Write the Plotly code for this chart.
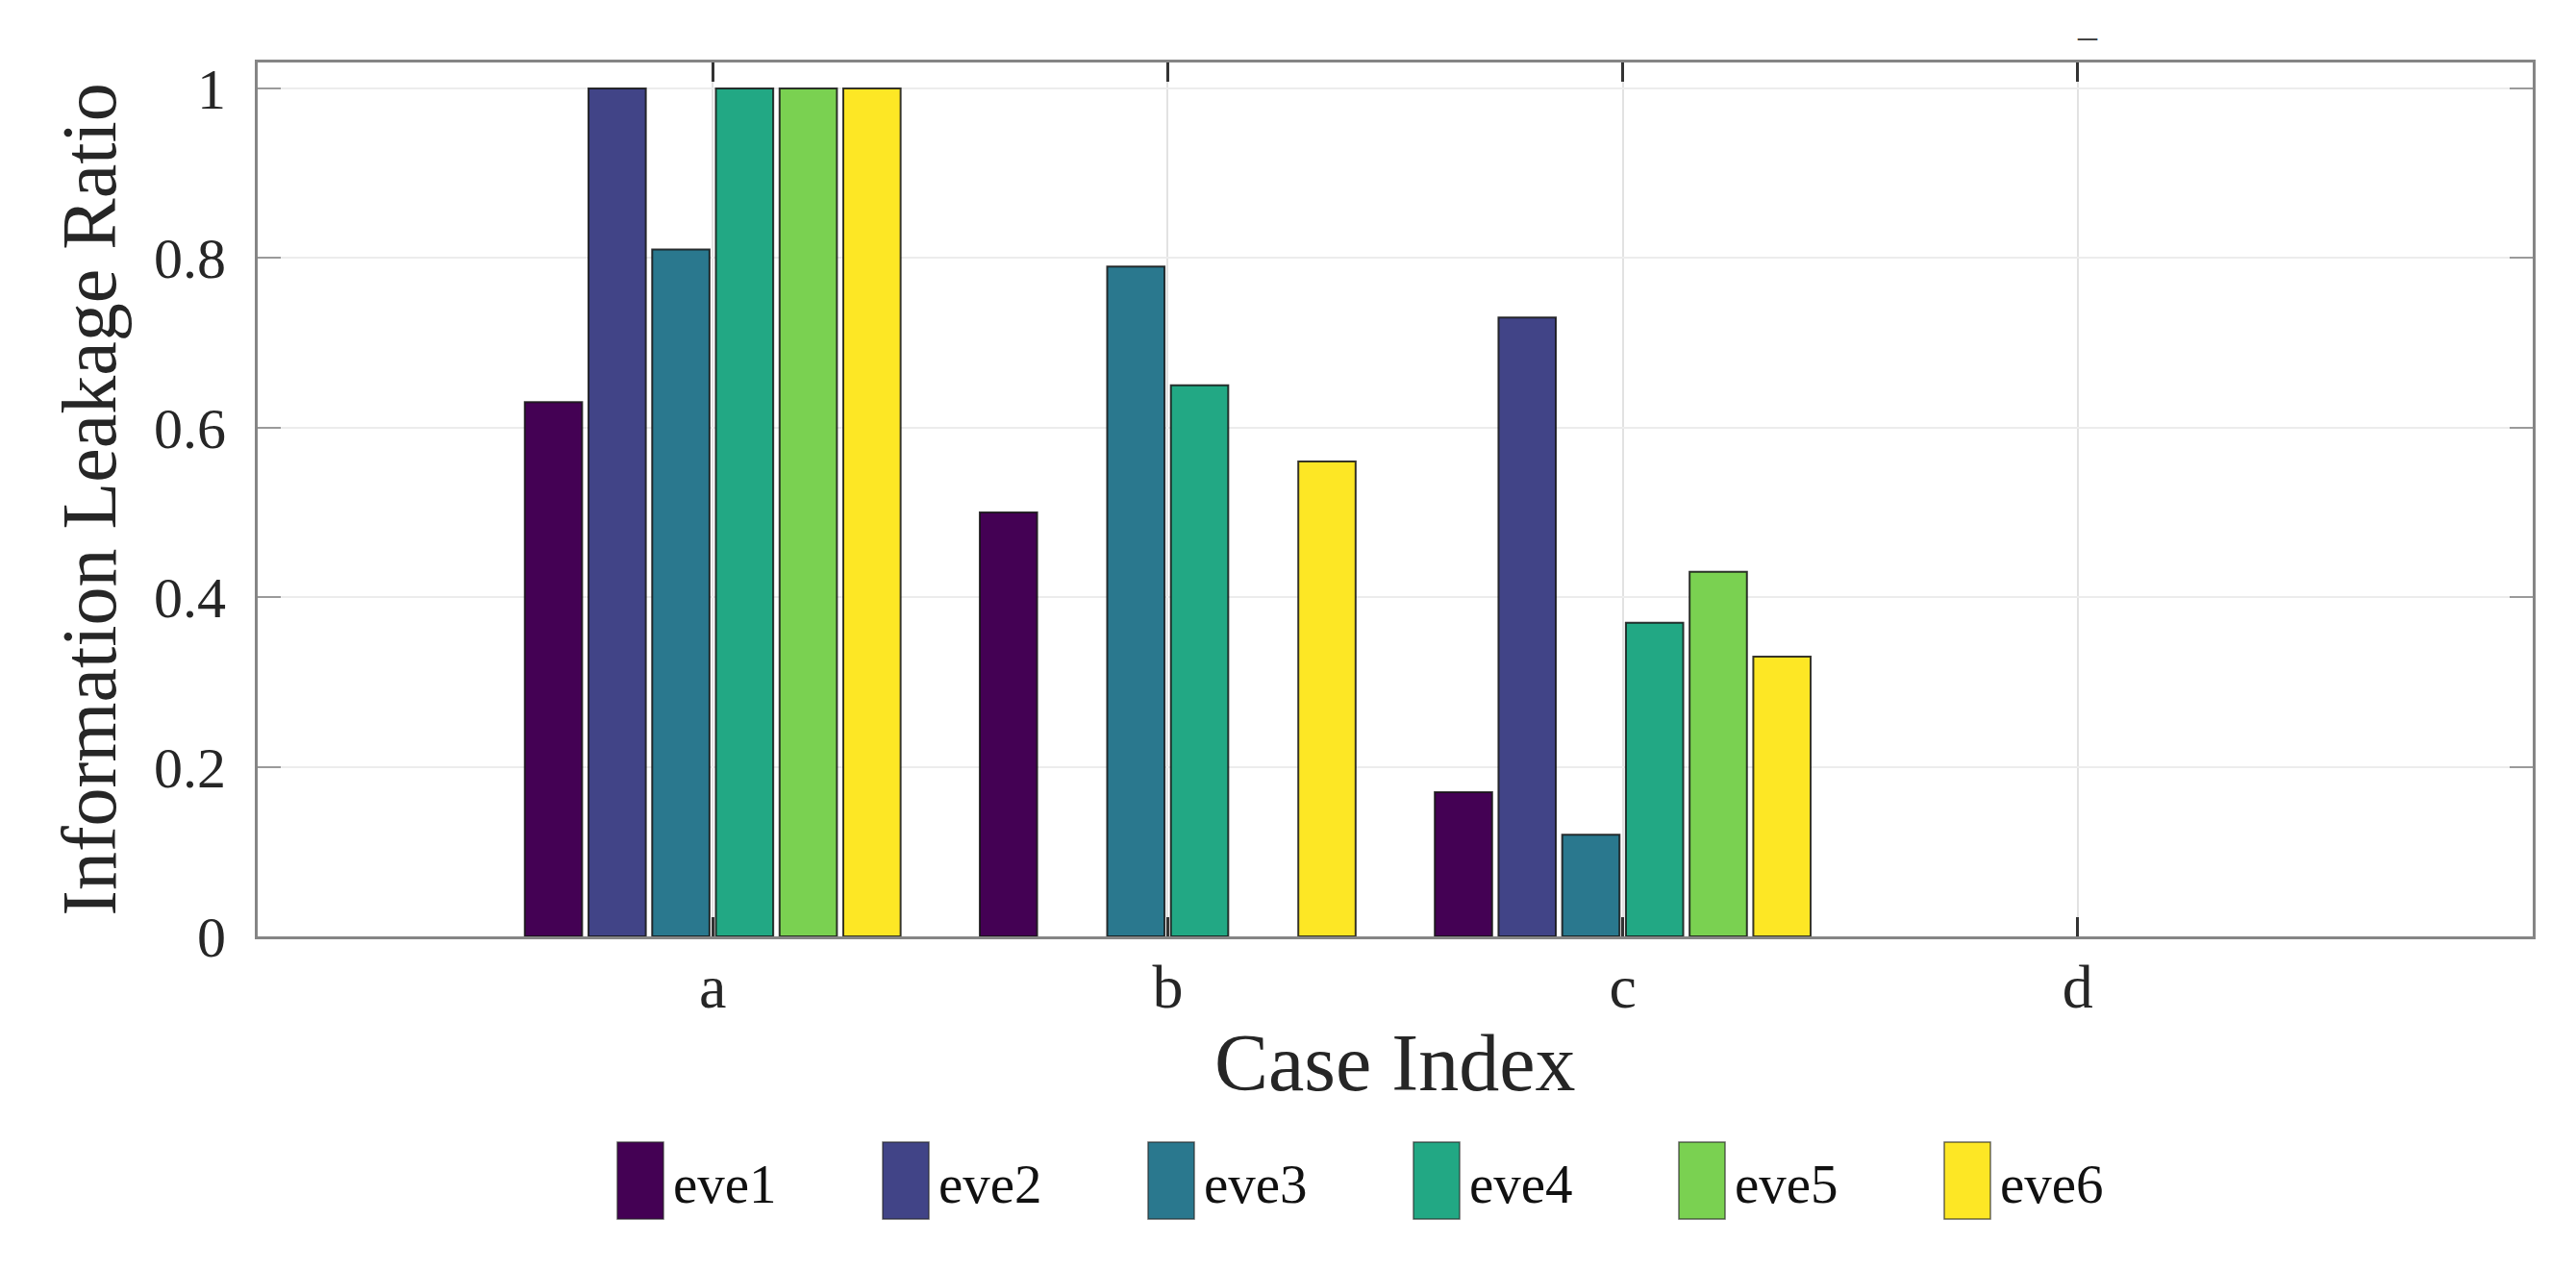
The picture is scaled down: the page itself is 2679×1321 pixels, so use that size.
import plotly.graph_objects as go

categories = ["a", "b", "c", "d"]
series_names = ["eve1", "eve2", "eve3", "eve4", "eve5", "eve6"]
eve1 = [0.63, 0.50, 0.17, 0.0]
eve2 = [1.00, 0.00, 0.73, 0.0]
eve3 = [0.81, 0.79, 0.12, 0.0]
eve4 = [1.00, 0.65, 0.37, 0.0]
eve5 = [1.00, 0.00, 0.43, 0.0]
eve6 = [1.00, 0.56, 0.33, 0.0]
series_values = [eve1, eve2, eve3, eve4, eve5, eve6]
colors = ["#440154", "#414487", "#2a788e", "#22a884", "#7ad151", "#fde725"]
y_ticks = [0, 0.2, 0.4, 0.6, 0.8, 1.0]
y_ticktext = ["0", "0.2", "0.4", "0.6", "0.8", "1"]

FONT = "Liberation Serif"
TXT = "#262626"

fig = go.Figure()
for name, vals, col in zip(series_names, series_values, colors):
    fig.add_trace(go.Bar(
        x=categories, y=vals, name=name,
        marker=dict(color=col,
                    line=dict(color="rgba(20,20,20,0.85)",
                              width=[2 if v > 0 else 0 for v in vals])),
        showlegend=False,
    ))

W, H = 2679, 1321
L, R, T, B = 260, 53, 57, 355

fig.update_layout(
    width=W, height=H,
    margin=dict(l=L, r=R, t=T, b=B, autoexpand=False),
    paper_bgcolor="white", plot_bgcolor="white",
    barmode="group", bargap=0.16, bargroupgap=0.1,
    font=dict(family=FONT, color=TXT, size=60),
)
fig.update_xaxes(
    type="category", range=[-1, 4], automargin=False,
    showgrid=True, gridcolor="#e2e2e2", gridwidth=2,
    showline=True, linecolor="#858585", linewidth=3, mirror="ticks",
    ticks="inside", ticklen=20, tickwidth=3, tickcolor="#333333",
    tickfont=dict(size=64, family=FONT, color=TXT),
    ticklabelstandoff=-6,
)
fig.update_yaxes(
    range=[0, 1.0306], automargin=False,
    tickvals=y_ticks, ticktext=y_ticktext,
    showgrid=True, gridcolor="#ececec", gridwidth=2,
    showline=True, linecolor="#858585", linewidth=3, mirror="ticks",
    ticks="inside", ticklen=24, tickwidth=2, tickcolor="#9a9a9a",
    tickfont=dict(size=60, family=FONT, color=TXT),
    ticklabelstandoff=18,
    zeroline=False,
    title=dict(text="Information Leakage Ratio", font=dict(size=80, family=FONT, color=TXT), standoff=14),
)

# pixel -> paper helpers for title / legend placement
plot_w = W - L - R
plot_h = H - T - B
def px_to_paper_x(px):
    return (px - L) / plot_w
def px_to_paper_y(py):
    return (H - B - py) / plot_h

annotations = [dict(
    xref="paper", yref="paper", x=0.5, y=px_to_paper_y(1097),
    xanchor="center", yanchor="middle", text="Case Index", showarrow=False,
    font=dict(size=84, family=FONT, color=TXT),
)]

# custom legend (swatches + real text)
leg_x0 = 634
step = 276
sw_w, sw_h = 48, 80
cy = 1220
shapes = []
for i, (name, col) in enumerate(zip(series_names, colors)):
    x0 = leg_x0 + i * step
    shapes.append(dict(
        type="rect", xref="paper", yref="paper",
        x0=px_to_paper_x(x0), x1=px_to_paper_x(x0 + sw_w),
        y0=px_to_paper_y(cy + sw_h / 2), y1=px_to_paper_y(cy - sw_h / 2),
        fillcolor=col, line=dict(color="rgba(40,40,40,0.7)", width=1.5),
    ))
    annotations.append(dict(
        xref="paper", yref="paper", x=px_to_paper_x(x0 + sw_w + 8), y=px_to_paper_y(cy + 3),
        xanchor="left", yanchor="middle", text=name, showarrow=False,
        font=dict(size=57, family=FONT, color="#111111"),
    ))

# small dash mark above the "d" column
annotations.append(dict(
    xref="paper", yref="paper", x=px_to_paper_x(2163), y=px_to_paper_y(29), text="–", showarrow=False,
    xanchor="center", yanchor="middle", font=dict(size=40, family=FONT, color="#444444"),
))

fig.update_layout(shapes=shapes, annotations=annotations)
fig.write_html("out.html")
